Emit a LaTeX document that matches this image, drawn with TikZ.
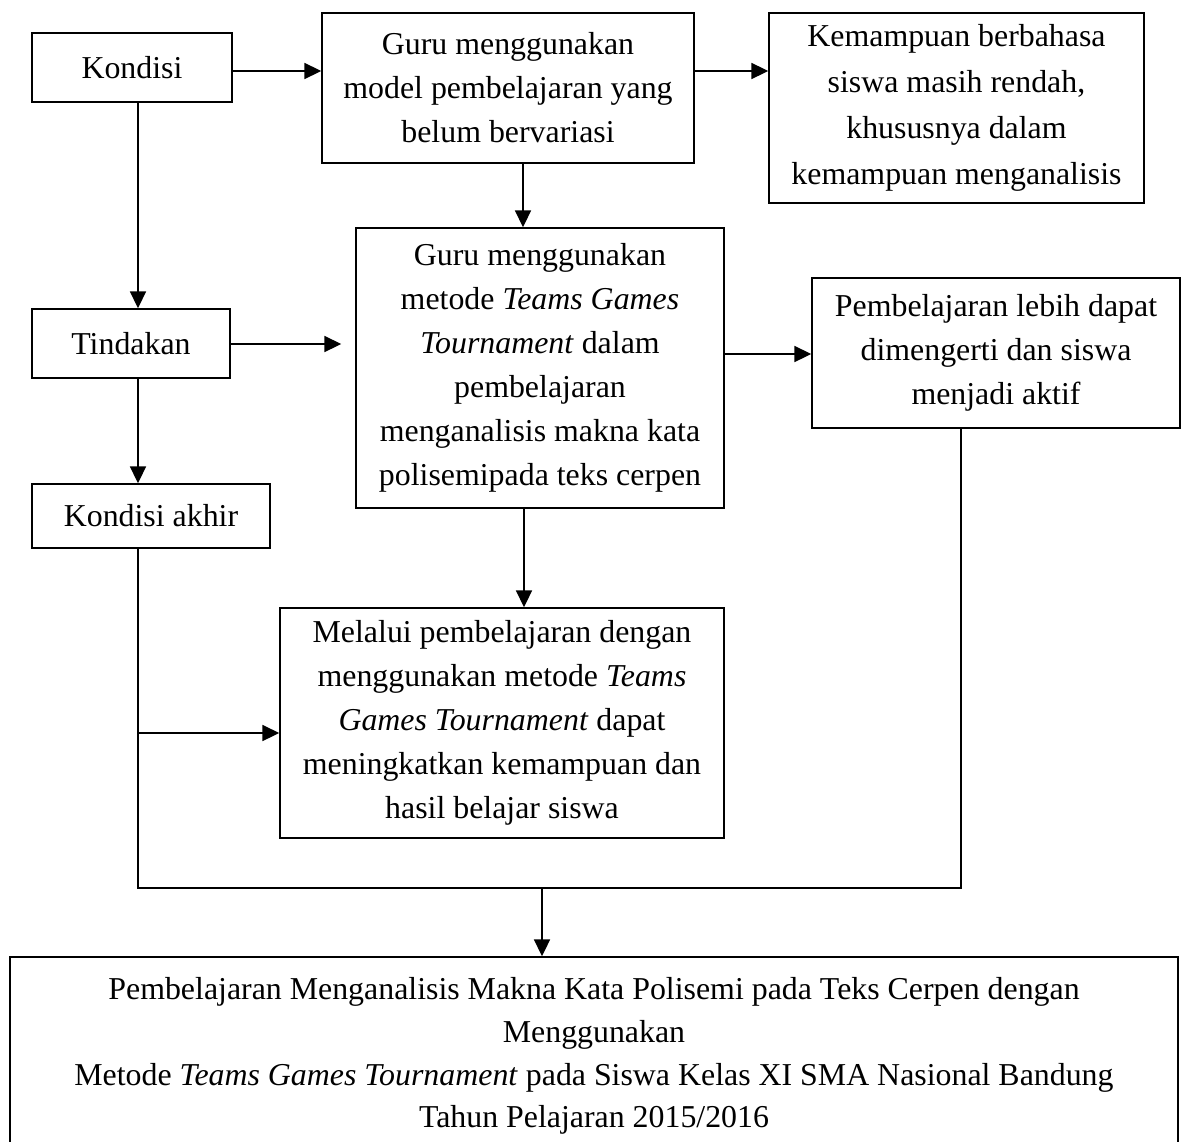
\documentclass[tikz,border=0pt]{standalone}
\usepackage{fontspec}
\setmainfont{Liberation Serif}
\usetikzlibrary{arrows.meta}
\begin{document}
\begin{tikzpicture}[x=0.75pt,y=-0.75pt,
  box/.style={draw, line width=1.3pt, align=center, inner sep=0pt, font=\fontsize{23.9}{33}\selectfont},
  arr/.style={line width=1.3pt, -{Triangle[length=12.5pt,width=12pt]}},
  ln/.style={line width=1.3pt}]
\useasboundingbox (0,0) rectangle (1182,1142);
\fill[white] (0,0) rectangle (1182,1142);

\node[box, minimum width=150pt, minimum height=51.75pt] (kondisi) at (132,67.5) {Kondisi};
\node[box, minimum width=279pt, minimum height=112.5pt] (guru1) at (508,88)
  {Guru menggunakan\\model pembelajaran yang\\belum bervariasi};
\node[box, minimum width=281.25pt, minimum height=142.5pt, font=\fontsize{23.9}{34.5}\selectfont] (kem) at (956.5,108)
  {Kemampuan berbahasa\\siswa masih rendah,\\khususnya dalam\\kemampuan menganalisis};
\node[box, minimum width=148.5pt, minimum height=51.75pt] (tindakan) at (131,343.5) {Tindakan};
\node[box, minimum width=276pt, minimum height=210pt] (tgt) at (540,368)
  {Guru menggunakan\\metode \textit{Teams Games}\\\textit{Tournament} dalam\\pembelajaran\\menganalisis makna kata\\polisemipada teks cerpen};
\node[box, minimum width=276pt, minimum height=112.5pt] (pemb) at (996,353)
  {Pembelajaran lebih dapat\\dimengerti dan siswa\\menjadi aktif};
\node[box, minimum width=178.5pt, minimum height=48pt] (akhir) at (151,516) {Kondisi akhir};
\node[box, minimum width=333pt, minimum height=172.5pt] (melalui) at (502,723)
  {Melalui pembelajaran dengan\\menggunakan metode \textit{Teams}\\\textit{Games Tournament} dapat\\meningkatkan kemampuan dan\\hasil belajar siswa};
\node[box, minimum width=876pt, minimum height=148.5pt, font=\fontsize{23.9}{32}\selectfont] (bottom) at (594,1056)
  {Pembelajaran Menganalisis Makna Kata Polisemi pada Teks Cerpen dengan\\Menggunakan\\Metode \textit{Teams Games Tournament} pada Siswa Kelas XI SMA Nasional Bandung\\Tahun Pelajaran 2015/2016};

\coordinate (ya) at (0,71);
\coordinate (xk) at (138,0);
\coordinate (xg) at (523,0);
\coordinate (yt) at (0,344);
\coordinate (yp) at (0,354);
\coordinate (xt) at (524,0);
\coordinate (yb) at (0,888);
\coordinate (xr) at (961,0);
\coordinate (ym) at (0,733);
\coordinate (xb) at (542,0);

\draw[arr] (kondisi.east |- ya) -- (guru1.west |- ya);
\draw[arr] (guru1.east |- ya) -- (kem.west |- ya);
\draw[arr] (kondisi.south -| xk) -- (tindakan.north -| xk);
\draw[arr] (guru1.south -| xg) -- (tgt.north -| xg);
\draw[arr, shorten >=10.5pt] (tindakan.east |- yt) -- (tgt.west |- yt);
\draw[arr] (tgt.east |- yp) -- (pemb.west |- yp);
\draw[arr] (tindakan.south -| xk) -- (akhir.north -| xk);
\draw[arr] (tgt.south -| xt) -- (melalui.north -| xt);
\draw[ln] (akhir.south -| xk) -- (xk |- yb) -- (xr |- yb) -- (pemb.south -| xr);
\draw[arr] (xk |- ym) -- (melalui.west |- ym);
\draw[arr] (xb |- yb) -- (bottom.north -| xb);
\end{tikzpicture}
\end{document}
